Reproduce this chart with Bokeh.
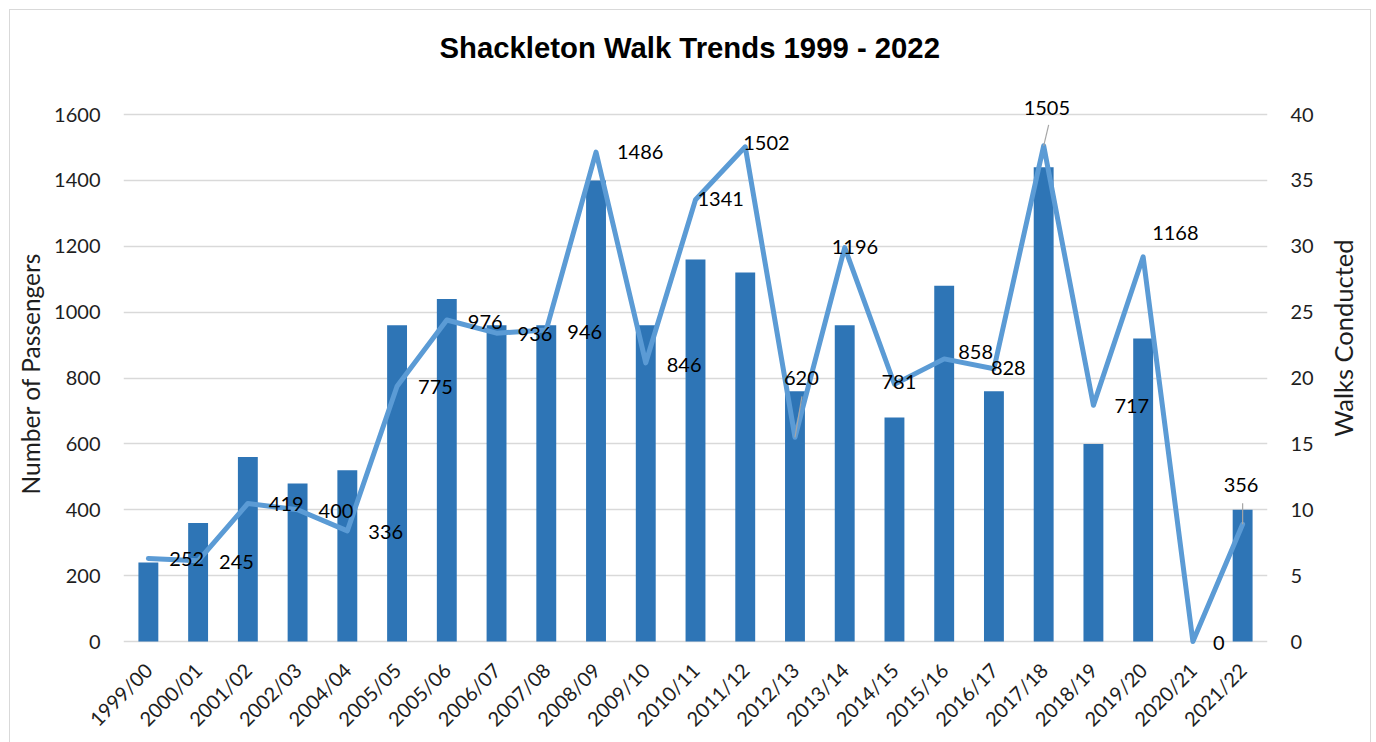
import math
from bokeh.plotting import figure
from bokeh.models import Range1d, LinearAxis, FixedTicker, ColumnDataSource, LabelSet
from bokeh.core.properties import value
from bokeh.embed import file_html
from bokeh.resources import INLINE

# ---- data ----
seasons = ["1999/00", "2000/01", "2001/02", "2002/03", "2004/04", "2005/05", "2005/06",
           "2006/07", "2007/08", "2008/09", "2009/10", "2010/11", "2011/12", "2012/13",
           "2013/14", "2014/15", "2015/16", "2016/17", "2017/18", "2018/19", "2019/20",
           "2020/21", "2021/22"]
passengers = [252, 245, 419, 400, 336, 775, 976, 936, 946, 1486, 846, 1341, 1502, 620,
              1196, 781, 858, 828, 1505, 717, 1168, 0, 356]
walks = [6, 9, 14, 12, 13, 24, 26, 24, 24, 35, 24, 29, 28, 19, 24, 17, 27, 19, 36, 15,
         23, 0, 10]
passenger_ticks = [0, 200, 400, 600, 800, 1000, 1200, 1400, 1600]
walk_ticks = [0, 5, 10, 15, 20, 25, 30, 35, 40]
PASS_MAX, WALK_MAX = 1600, 40

# ---- label placement (screen pixel offsets from each point, y down) ----
label_dx = [21, 21, 21, 21, 21, 21, 21, 21, 21, 21, 21, 2, -2, -11, -13, -13, 14, -3,
            -20, 21, 9, 20, -19]
label_dy = [1, 1, 1, 1, 1, 1, 2, 1, 2, 0, 2, -1, -4, -59, -1, -2, -7, -1, -38, 1, -24,
            1, -39]
leader_idx = [13, 18, 22]
leader_dx = [7, 5, 0]
leader_dy = [-41, -21, -21]

# ---- layout (page pixels) ----
W, H = 1376, 742
FL, FR = 123, 1267          # plot frame left / right
AX_TOP, AX_ZERO = 114, 641  # where 1600 and 0 sit
FT, FB = 88, 658            # frame top / bottom (a little room for labels)
n = len(seasons)
xs = list(range(1, n + 1))
px_x = (FR - FL) / n
px_y = (AX_ZERO - AX_TOP) / PASS_MAX
y_hi = PASS_MAX + (AX_TOP - FT) / px_y
y_lo = -(FB - AX_ZERO) / px_y
scale = WALK_MAX / PASS_MAX

p = figure(frame_width=FR - FL, frame_height=FB - FT,
           x_range=Range1d(0.5, n + 0.5), y_range=Range1d(y_lo, y_hi),
           output_backend="svg", toolbar_location=None,
           min_border_left=FL, min_border_right=W - FR, min_border_top=FT,
           min_border_bottom=H - FB, title="Shackleton Walk Trends 1999 - 2022")
p.border_fill_alpha = 0
p.styles = {
    "background": ("linear-gradient(#d9d9d9,#d9d9d9) 9px 9px / 1362px 1px no-repeat, "
                   "linear-gradient(#d9d9d9,#d9d9d9) 9px 9px / 1px 100% no-repeat, "
                   "linear-gradient(#d9d9d9,#d9d9d9) 1370px 9px / 1px 100% no-repeat, "
                   "white"),
}
p.outline_line_color = None
p.background_fill_color = "white"

p.title.text_font = "Liberation Sans"
p.title.text_font_style = "bold"
p.title.text_font_size = "29.3px"
p.title.text_color = "black"
p.title.align = "left"
p.title.offset = 316
p.title.standoff = 50

txt_color = "#1e1e1e"
font = "Lato"

# left axis
ly = p.left[0]
ly.ticker = FixedTicker(ticks=passenger_ticks)
ly.axis_label = "Number of Passengers"
ly.axis_label_text_font = font
ly.axis_label_text_font_size = "24.5px"
ly.axis_label_text_font_style = "normal"
ly.axis_label_text_color = txt_color
ly.axis_label_standoff = 6
ly.major_label_text_font = font
ly.major_label_text_font_size = "20px"
ly.major_label_text_color = txt_color
ly.major_tick_out = 0
ly.major_tick_in = 0
ly.major_label_standoff = 23
ly.axis_line_color = None
ly.major_tick_line_color = None
ly.minor_tick_line_color = None

# bottom axis
bx = p.below[0]
bx.ticker = FixedTicker(ticks=xs)
bx.major_label_overrides = {x: s for x, s in zip(xs, seasons)}
bx.major_label_orientation = math.pi / 4
bx.major_label_text_font = font
bx.major_label_text_font_size = "20px"
bx.major_label_text_color = txt_color
bx.major_tick_out = 0
bx.major_tick_in = 0
bx.major_label_standoff = 8
bx.axis_line_color = None
bx.major_tick_line_color = None
bx.minor_tick_line_color = None

p.xgrid.grid_line_color = None
p.ygrid.ticker = FixedTicker(ticks=passenger_ticks)
p.ygrid.grid_line_color = "#d9d9d9"
p.ygrid.grid_line_width = 1.5

# right axis (walks)
p.extra_y_ranges = {"walks": Range1d(y_lo * scale, y_hi * scale)}
ry = LinearAxis(y_range_name="walks", ticker=FixedTicker(ticks=walk_ticks))
ry.major_label_text_font = font
ry.major_label_text_font_size = "20px"
ry.major_label_text_color = txt_color
ry.major_tick_out = 0
ry.major_tick_in = 0
ry.major_label_standoff = 23
ry.axis_line_color = None
ry.major_tick_line_color = None
ry.minor_tick_line_color = None
p.add_layout(ry, "right")

# right axis title, reading bottom-to-top
title_pos = 622
rt = LinearAxis(ticker=FixedTicker(ticks=[title_pos]),
                major_label_overrides={title_pos: "Walks Conducted"},
                major_label_orientation=math.pi / 2)
rt.major_label_text_font = font
rt.major_label_text_font_size = "25.5px"
rt.major_label_text_color = txt_color
rt.major_tick_out = 0
rt.major_tick_in = 0
rt.major_label_standoff = 27
rt.axis_line_color = None
rt.major_tick_line_color = None
rt.minor_tick_line_color = None
p.add_layout(rt, "right")

src = ColumnDataSource(dict(x=xs, walks=walks, passengers=passengers,
                            label=[str(v) for v in passengers],
                            dx=label_dx, dy=[-d for d in label_dy]))

p.vbar(x="x", top="walks", width=0.4, y_range_name="walks", source=src,
       fill_color="#2E75B6", line_color=None)
p.line(x="x", y="passengers", source=src, line_color="#5B9BD5", line_width=5,
       line_join="round", line_cap="round")

# leader lines
lx0 = [xs[i] for i in leader_idx]
ly0 = [passengers[i] for i in leader_idx]
lx1 = [xs[i] + d / px_x for i, d in zip(leader_idx, leader_dx)]
ly1 = [passengers[i] - d / px_y for i, d in zip(leader_idx, leader_dy)]
p.segment(x0=lx0, y0=ly0, x1=lx1, y1=ly1, line_color="#a6a6a6", line_width=1.2)

p.add_layout(LabelSet(x="x", y="passengers", text="label", source=src,
                      x_offset="dx", y_offset="dy",
                      text_align="left", text_baseline="middle",
                      text_font=value(font), text_font_size="20px",
                      text_color="black"))

open("out.html", "w").write(file_html(p, INLINE))
